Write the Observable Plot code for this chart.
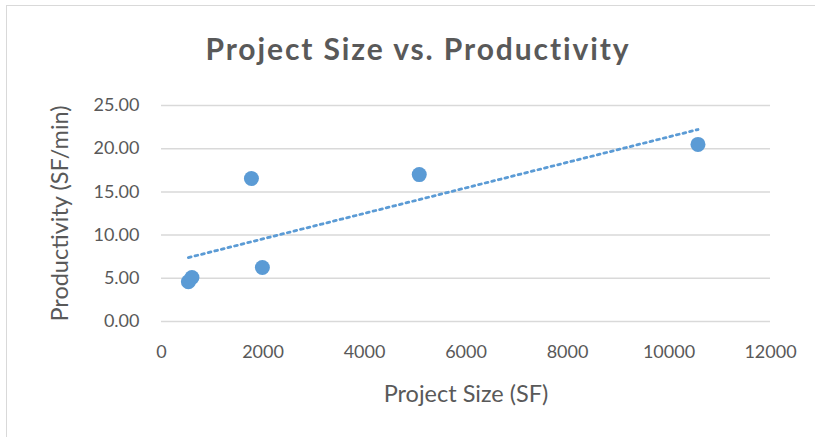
<!DOCTYPE html>
<html>
<head>
<meta charset="utf-8">
<script src="https://cdn.jsdelivr.net/npm/d3@7"></script>
<script src="https://cdn.jsdelivr.net/npm/@observablehq/plot@0.6"></script>
<style>
  html, body { margin: 0; padding: 0; background: #fff; }
  body { width: 815px; height: 437px; overflow: hidden; position: relative; font-family: Lato, "Open Sans", sans-serif; }
  #frame { position: absolute; left: 6px; top: 5px; width: 830px; height: 440px; border: 1.5px solid #d9d9d9; box-sizing: border-box; }
  #title { position: absolute; left: 0; top: 30px; width: 836px; text-align: center; font-size: 30px; font-weight: bold; color: #595959; letter-spacing: 1.9px; }
  #chart { position: absolute; left: 0; top: 85px; }
</style>
</head>
<body>
<div id="frame"></div>
<div id="title">Project Size vs. Productivity</div>
<div id="chart"></div>
<script>
// Project size in square feet and measured productivity per project
const projectSize = [530, 600, 1772, 1988, 5079, 10571];
const productivity = [4.6, 5.1, 16.55, 6.25, 17.0, 20.5];
const xTicks = [0, 2000, 4000, 6000, 8000, 10000, 12000];
const yTicks = [0, 5, 10, 15, 20, 25];

const rows = projectSize.map((s, i) => ({size: s, prod: productivity[i]}));
const blue = "#5b9bd5";

const chart = Plot.plot({
  width: 815,
  height: 352,
  marginLeft: 161,
  marginRight: 45,
  marginTop: 20,
  marginBottom: 116,
  style: {fontFamily: "Lato, 'Open Sans', sans-serif", color: "#595959", background: "transparent"},
  x: {domain: [0, 12000]},
  y: {domain: [0, 25]},
  marks: [
    Plot.gridY(yTicks, {stroke: "#d9d9d9", strokeOpacity: 1, strokeWidth: 1.5}),
    Plot.axisY(yTicks, {
      tickFormat: d3.format(".2f"), tickSize: 0, tickPadding: 22,
      fontSize: 18, label: "Productivity (SF/min)", labelAnchor: "center", labelArrow: "none", labelOffset: 110
    }),
    Plot.axisX(xTicks, {
      tickFormat: d3.format("d"), tickSize: 0, tickPadding: 24,
      fontSize: 18, label: "Project Size (SF)", labelAnchor: "center", labelArrow: "none", labelOffset: 80
    }),
    Plot.linearRegressionY(rows, {x: "size", y: "prod", ci: 0, stroke: blue, strokeWidth: 2.8, strokeDasharray: "2.8 4"}),
    Plot.dot(rows, {x: "size", y: "prod", r: 7.5, fill: blue, stroke: "none"})
  ]
});
chart.querySelectorAll("[aria-label='y-axis label'] text, [aria-label='x-axis label'] text").forEach(t => t.setAttribute("font-size", 23.5));
document.getElementById("chart").append(chart);
</script>
</body>
</html>
